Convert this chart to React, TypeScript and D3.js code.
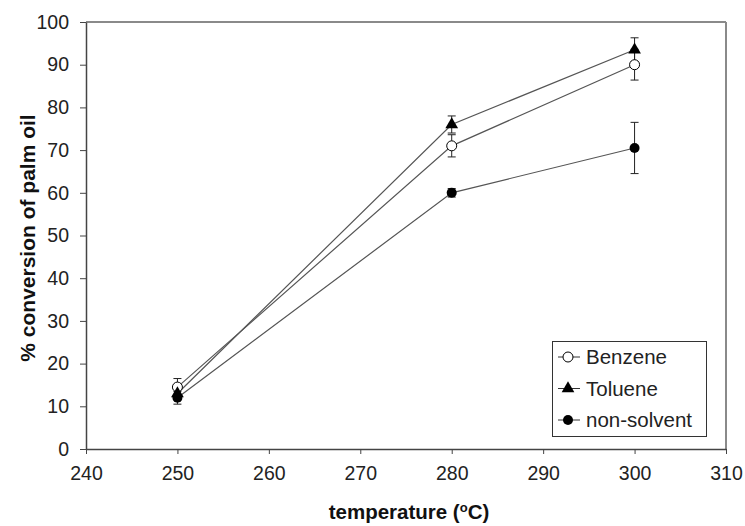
import { useEffect, useRef } from "react";
import * as d3 from "d3";

// temperatures (°C)
const temps = [250, 280, 300];

// % conversion of palm oil, with error bar half-widths
const benzene = [14.5, 71, 90];
const benzeneErr = [2, 2.6, 3.6];
const toluene = [13, 76, 93.5];
const tolueneErr = [1.5, 2, 2.8];
const nonSolvent = [12, 60, 70.5];
const nonSolventErr = [1.5, 1, 6];

const xTicks = [240, 250, 260, 270, 280, 290, 300, 310];
const yTicks = [0, 10, 20, 30, 40, 50, 60, 70, 80, 90, 100];

const seriesNames = ["Benzene", "Toluene", "non-solvent"];

export default function App() {
  const svgRef = useRef<SVGSVGElement | null>(null);

  useEffect(() => {
    if (!svgRef.current) return;
    const svg = d3.select(svgRef.current);
    svg.selectAll("*").remove();

    const font = "Arial, 'Liberation Sans', sans-serif";
    const left = 86, right = 726, top = 22, bottom = 449;

    const x = d3.scaleLinear().domain([240, 310]).range([left, right]);
    const y = d3.scaleLinear().domain([0, 100]).range([bottom, top]);

    // frame: top and right in lighter grey
    svg.append("line")
      .attr("x1", left).attr("x2", right).attr("y1", top).attr("y2", top)
      .attr("stroke", "#8a8a8a").attr("stroke-width", 2);
    svg.append("line")
      .attr("x1", right).attr("x2", right).attr("y1", top).attr("y2", bottom)
      .attr("stroke", "#8a8a8a").attr("stroke-width", 2);

    // axes
    const xAxis = svg.append("g")
      .attr("transform", `translate(0,${bottom})`)
      .call(d3.axisBottom(x).tickValues(xTicks).tickSize(5).tickSizeOuter(0).tickPadding(12));
    const yAxis = svg.append("g")
      .attr("transform", `translate(${left},0)`)
      .call(d3.axisLeft(y).tickValues(yTicks).tickSize(6).tickSizeOuter(0).tickPadding(11));
    [xAxis, yAxis].forEach(g => {
      g.select(".domain").attr("stroke", "#444").attr("stroke-width", 1.5);
      g.selectAll(".tick line").attr("stroke", "#444");
      g.selectAll(".tick text")
        .attr("font-family", font).attr("font-size", 19.5).attr("fill", "#222");
    });

    // axis titles
    const xt = svg.append("text")
      .attr("x", 409).attr("y", 519)
      .attr("text-anchor", "middle")
      .attr("font-family", font).attr("font-size", 20.5).attr("font-weight", "bold")
      .attr("fill", "#111");
    xt.append("tspan").text("temperature (");
    xt.append("tspan").attr("font-size", 13).attr("dy", -7).text("o");
    xt.append("tspan").attr("dy", 7).text("C)");

    svg.append("text")
      .attr("transform", "translate(35,238) rotate(-90)")
      .attr("text-anchor", "middle")
      .attr("font-family", font).attr("font-size", 21).attr("font-weight", "bold")
      .attr("fill", "#111")
      .text("% conversion of palm oil");

    const series = [
      { name: seriesNames[2], values: nonSolvent, err: nonSolventErr, marker: "dot" },
      { name: seriesNames[0], values: benzene, err: benzeneErr, marker: "open" },
      { name: seriesNames[1], values: toluene, err: tolueneErr, marker: "tri" },
    ];

    const line = d3.line<number>()
      .x((_, i) => x(temps[i]))
      .y(d => y(d));

    series.forEach(s => {
      svg.append("path")
        .datum(s.values)
        .attr("fill", "none")
        .attr("stroke", "#555")
        .attr("stroke-width", 1.2)
        .attr("d", line);
    });

    const drawMarker = (g: any, kind: string, cx: number, cy: number) => {
      if (kind === "tri") {
        g.append("path")
          .attr("d", d3.symbol().type(d3.symbolTriangle).size(70)())
          .attr("transform", `translate(${cx},${cy})`)
          .attr("fill", "#000");
      } else if (kind === "open") {
        g.append("circle").attr("cx", cx).attr("cy", cy).attr("r", 5)
          .attr("fill", "#fff").attr("stroke", "#000").attr("stroke-width", 1);
      } else {
        g.append("circle").attr("cx", cx).attr("cy", cy).attr("r", 5)
          .attr("fill", "#000");
      }
    };

    series.forEach(s => {
      const g = svg.append("g");
      s.values.forEach((v, i) => {
        const cx = x(temps[i]);
        const y0 = y(v - s.err[i]);
        const y1 = y(v + s.err[i]);
        g.append("line").attr("x1", cx).attr("x2", cx).attr("y1", y0).attr("y2", y1)
          .attr("stroke", "#222").attr("stroke-width", 1);
        [y0, y1].forEach(yy => {
          g.append("line").attr("x1", cx - 4).attr("x2", cx + 4).attr("y1", yy).attr("y2", yy)
            .attr("stroke", "#222").attr("stroke-width", 1);
        });
      });
    });

    series.forEach(s => {
      const g = svg.append("g");
      s.values.forEach((v, i) => drawMarker(g, s.marker, x(temps[i]), y(v)));
    });

    // legend
    const lg = svg.append("g");
    lg.append("rect")
      .attr("x", 552.5).attr("y", 341.5).attr("width", 154).attr("height", 95)
      .attr("fill", "#fff").attr("stroke", "#333").attr("stroke-width", 1);
    const legendItems = [
      { name: seriesNames[0], marker: "open" },
      { name: seriesNames[1], marker: "tri" },
      { name: seriesNames[2], marker: "dot" },
    ];
    legendItems.forEach((it, i) => {
      const ly = 357 + i * 31.5;
      lg.append("line").attr("x1", 558).attr("x2", 580).attr("y1", ly).attr("y2", ly)
        .attr("stroke", "#333").attr("stroke-width", 1);
      drawMarker(lg, it.marker, 568, ly);
      lg.append("text")
        .attr("x", 586).attr("y", ly).attr("dy", "0.36em")
        .attr("font-family", font).attr("font-size", 20.5).attr("fill", "#222")
        .text(it.name);
    });
  }, []);

  return (
    <svg
      ref={svgRef}
      width={745}
      height={526}
      style={{ position: "absolute", left: 0, top: 0, background: "#fff" }}
    />
  );
}
